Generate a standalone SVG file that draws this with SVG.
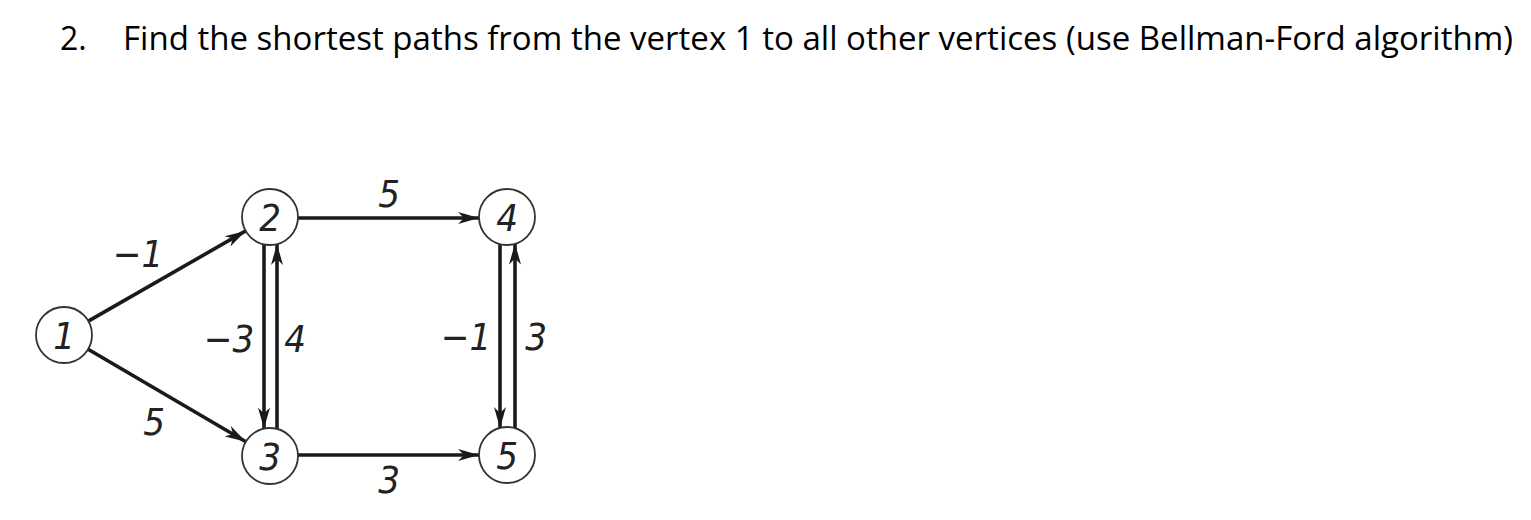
<svg xmlns="http://www.w3.org/2000/svg" width="1531" height="520" viewBox="0 0 1531 520">
<style>
.title{font-family:"Open Sans","Liberation Sans",sans-serif;font-size:32px;fill:#000}
.node circle{fill:#fff;stroke:#333;stroke-width:1.8}
.lbl{font-family:"DejaVu Sans Condensed","DejaVu Sans",sans-serif;font-stretch:condensed;font-style:italic;font-size:38px;fill:#222;text-anchor:middle}
.edge{stroke:#1a1a1a;stroke-width:3.6;fill:none;marker-end:url(#arr)}
</style>
<defs>
<marker id="arr" markerUnits="userSpaceOnUse" markerWidth="24" markerHeight="14" refX="21" refY="7" orient="auto">
<path d="M0,1 L21,7 L0,13 L6,7 z" fill="#1a1a1a"/>
</marker>
</defs>
<rect width="1531" height="520" fill="#fff"/>
<text class="title" x="60" y="50">2.</text>
<text class="title" x="123" y="50" textLength="1390" lengthAdjust="spacingAndGlyphs">Find the shortest paths from the vertex 1 to all other vertices (use Bellman-Ford algorithm)</text>
<g id="edges">
<line class="edge" x1="88.3" y1="321.1" x2="245.7" y2="230.9"/>
<line class="edge" x1="88.1" y1="349.2" x2="245.9" y2="441.8"/>
<line class="edge" x1="264" y1="244.4" x2="264" y2="428.6"/>
<line class="edge" x1="277" y1="428.9" x2="277" y2="244"/>
<line class="edge" x1="298" y1="218" x2="479" y2="218"/>
<line class="edge" x1="298" y1="455" x2="479" y2="455"/>
<line class="edge" x1="500" y1="244" x2="500" y2="428"/>
<line class="edge" x1="515" y1="428.5" x2="515" y2="243.5"/>
<text class="lbl" x="138" y="267">−1</text>
<text class="lbl" x="154" y="435">5</text>
<text class="lbl" x="229" y="352">−3</text>
<text class="lbl" x="295" y="352">4</text>
<text class="lbl" x="389" y="207">5</text>
<text class="lbl" x="389" y="493">3</text>
<text class="lbl" x="466" y="350">−1</text>
<text class="lbl" x="536" y="350">3</text>
</g>
<g id="n1" class="node"><circle cx="64" cy="335" r="28"/><text class="lbl" x="64" y="349">1</text></g>
<g id="n2" class="node"><circle cx="270" cy="217" r="28"/><text class="lbl" x="270" y="231">2</text></g>
<g id="n3" class="node"><circle cx="270" cy="456" r="28"/><text class="lbl" x="270" y="470">3</text></g>
<g id="n4" class="node"><circle cx="507" cy="217" r="28"/><text class="lbl" x="507" y="231">4</text></g>
<g id="n5" class="node"><circle cx="507" cy="455" r="28"/><text class="lbl" x="507" y="469">5</text></g>
</svg>
